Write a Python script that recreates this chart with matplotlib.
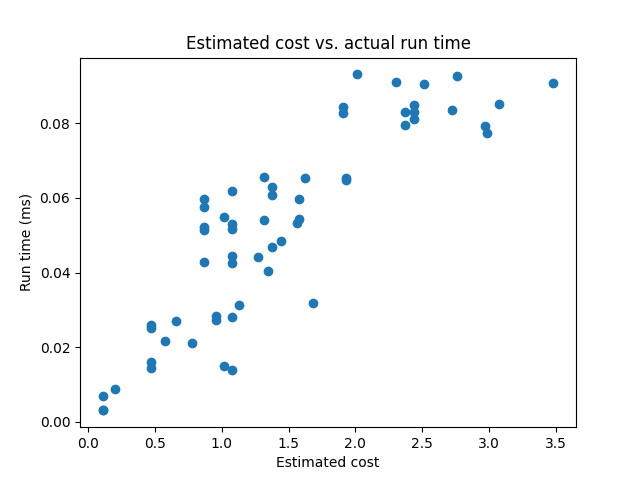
import matplotlib
matplotlib.use('Agg')
import matplotlib.pyplot as plt

est_cost = [0.11, 0.11, 0.11, 0.20, 0.47, 0.47, 0.47, 0.47, 0.58, 0.66, 0.78,
            0.87, 0.87, 0.87, 0.87, 0.87, 0.96, 0.96, 1.02, 1.08, 1.08, 1.02,
            1.08, 1.08, 1.08, 1.08, 1.08, 1.13, 1.27, 1.32, 1.32, 1.35, 1.38,
            1.38, 1.38, 1.44, 1.56, 1.58, 1.58, 1.62, 1.68, 1.91, 1.91, 1.93,
            1.93, 2.01, 2.30, 2.37, 2.37, 2.44, 2.44, 2.44, 2.51, 2.72, 2.76,
            2.97, 2.98, 3.07, 3.48]
run_time = [0.0070, 0.0032, 0.0031, 0.0088, 0.0260, 0.0253, 0.0160, 0.0144,
            0.0217, 0.0270, 0.0211, 0.0597, 0.0575, 0.0522, 0.0514, 0.0428,
            0.0284, 0.0273, 0.0150, 0.0139, 0.0280, 0.0548, 0.0618, 0.0530,
            0.0516, 0.0444, 0.0425, 0.0313, 0.0441, 0.0655, 0.0540, 0.0404,
            0.0629, 0.0607, 0.0470, 0.0484, 0.0532, 0.0543, 0.0597, 0.0653,
            0.0318, 0.0845, 0.0827, 0.0653, 0.0648, 0.0931, 0.0910, 0.0830,
            0.0795, 0.0850, 0.0830, 0.0811, 0.0904, 0.0835, 0.0928, 0.0792,
            0.0773, 0.0851, 0.0907]

fig, ax = plt.subplots(figsize=(6.4, 4.8), dpi=100)
ax.scatter(est_cost, run_time)
ax.set_title('Estimated cost vs. actual run time')
ax.set_xlabel('Estimated cost')
ax.set_ylabel('Run time (ms)')

fig.savefig('out.png')
